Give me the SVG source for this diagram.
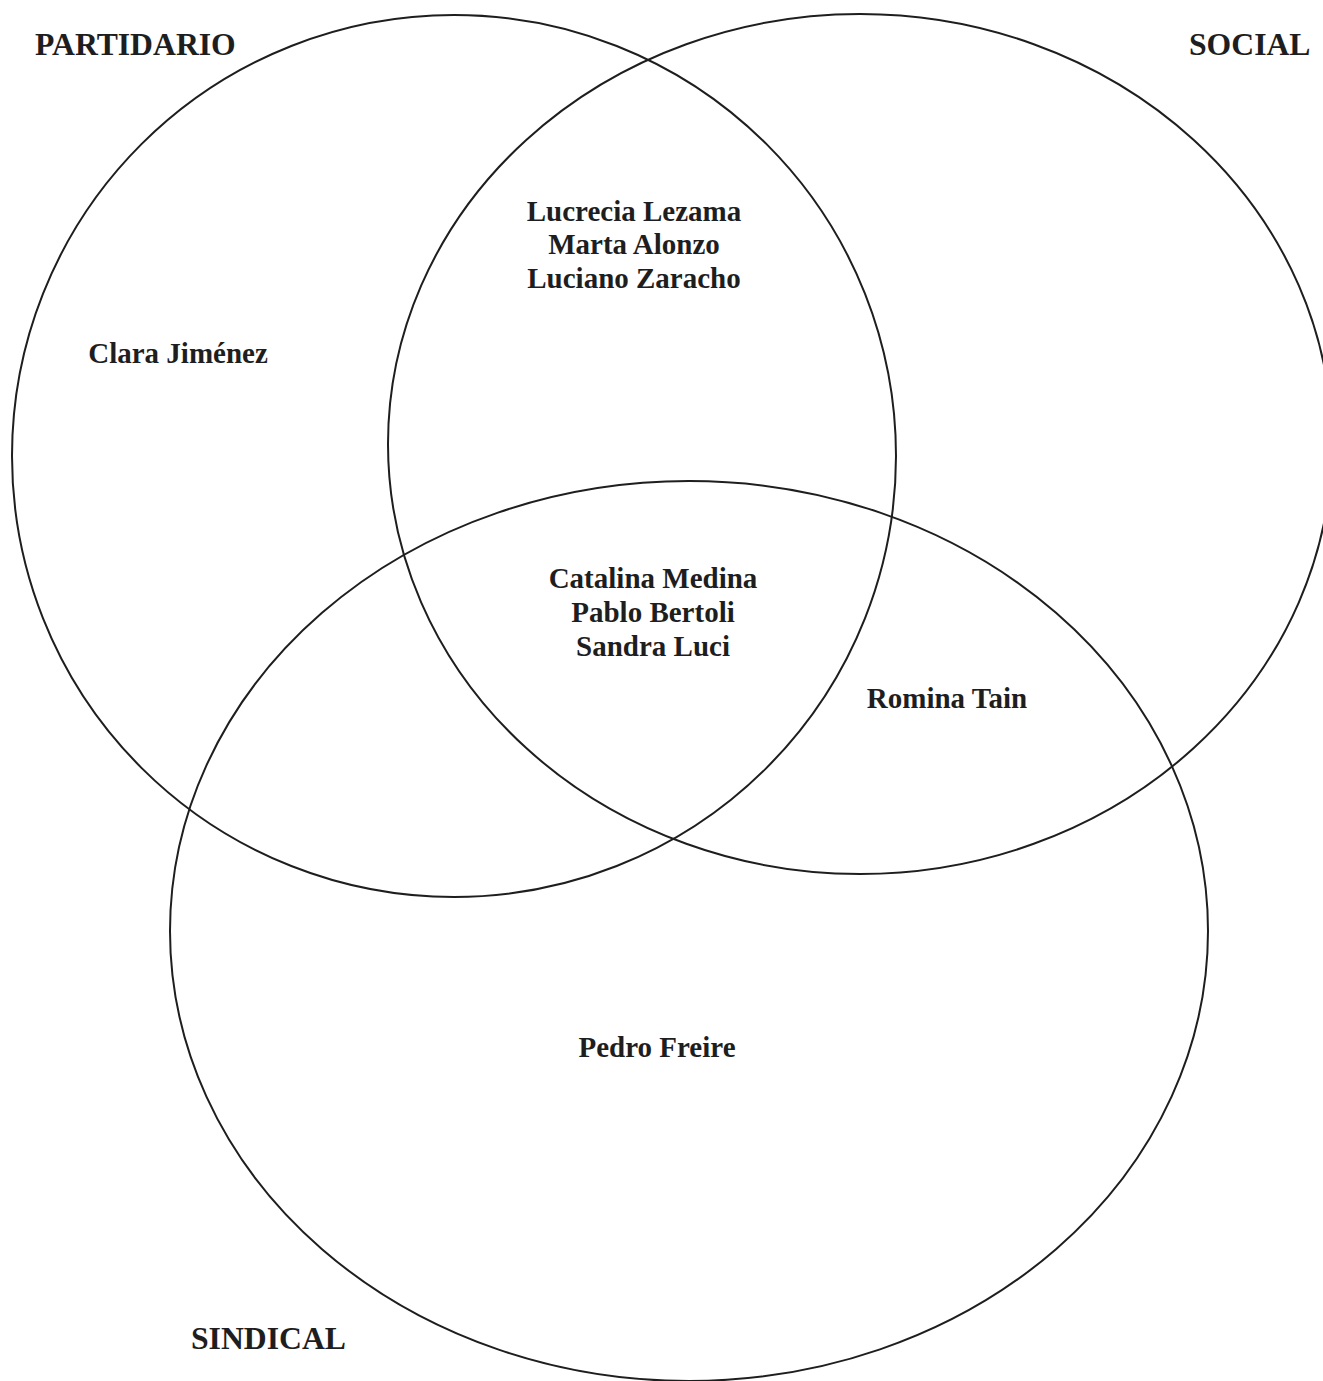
<svg xmlns="http://www.w3.org/2000/svg" width="1323" height="1381" viewBox="0 0 1323 1381">
<style>
.set{fill:none;stroke:#1e1e1e;stroke-width:2}
.t{font-family:"Liberation Serif","Times New Roman",serif;font-weight:bold;fill:#1e1e1e}
.title{font-size:31.7px}
.name{font-size:29px;text-anchor:middle}
</style>
<rect width="1323" height="1381" fill="#fff"/>
<g id="partidario">
<ellipse class="set" cx="454" cy="456" rx="442" ry="441"/>
<text class="t title" x="35" y="55">PARTIDARIO</text>
</g>
<g id="social">
<ellipse class="set" cx="860" cy="444" rx="472" ry="430"/>
<text class="t title" x="1189" y="55">SOCIAL</text>
</g>
<g id="sindical">
<ellipse class="set" cx="689" cy="931" rx="519" ry="450"/>
<text class="t title" x="191" y="1349">SINDICAL</text>
</g>
<g id="names">
<text class="t name" x="178" y="363">Clara Jiménez</text>
<text class="t name" x="634" y="221">Lucrecia Lezama</text>
<text class="t name" x="634" y="254">Marta Alonzo</text>
<text class="t name" x="634" y="288">Luciano Zaracho</text>
<text class="t name" x="653" y="588">Catalina Medina</text>
<text class="t name" x="653" y="622">Pablo Bertoli</text>
<text class="t name" x="653" y="656">Sandra Luci</text>
<text class="t name" x="947" y="708">Romina Tain</text>
<text class="t name" x="657" y="1057">Pedro Freire</text>
</g>
<g id="connectors"/>
</svg>
